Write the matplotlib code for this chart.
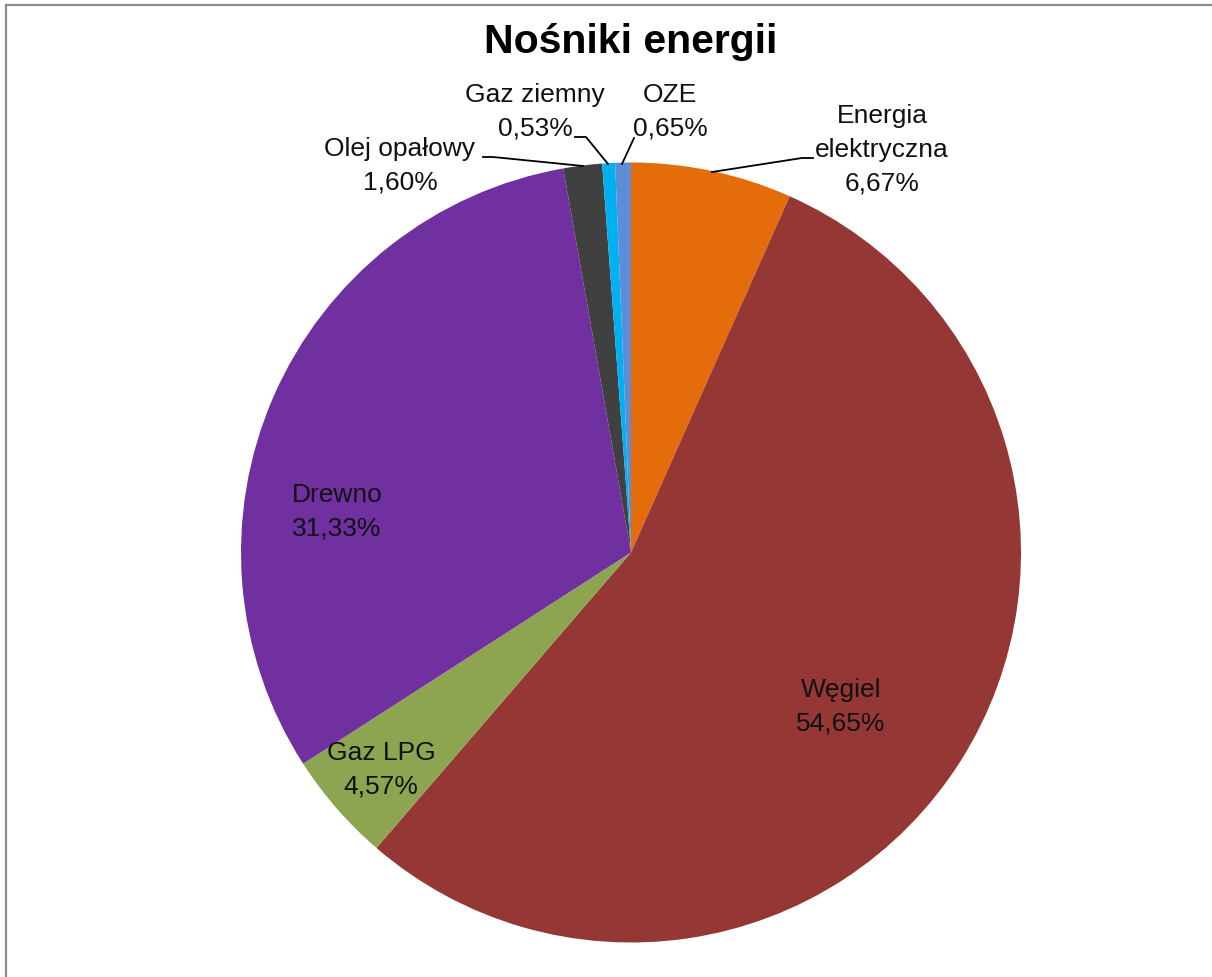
import matplotlib
matplotlib.use("Agg")
import matplotlib.pyplot as plt
from matplotlib.lines import Line2D

plt.rcParams['font.family'] = ['Liberation Sans', 'DejaVu Sans']

# data (clockwise from 12 o'clock)
labels = ["Energia\nelektryczna", "Węgiel", "Gaz LPG", "Drewno",
          "Olej opałowy", "Gaz ziemny", "OZE"]
shares = [6.67, 54.65, 4.57, 31.33, 1.60, 0.53, 0.65]
colors = ["#E46C0A", "#953735", "#8DA550", "#7030A0",
          "#404040", "#00B0F0", "#5B8ED6"]

W, H = 1212, 978
fig = plt.figure(figsize=(W / 100, H / 100), dpi=100)

# pie centre and radius in pixels
cx, cy, r = 631, 553.5, 390
ax = fig.add_axes([(cx - r) / W, (H - cy - r) / H, 2 * r / W, 2 * r / H])
ax.pie(shares, colors=colors, startangle=90, counterclock=False, radius=1,
       wedgeprops=dict(linewidth=0))
ax.set_xlim(-1, 1)
ax.set_ylim(-1, 1)
ax.set_aspect('auto')
ax.axis('off')


def px(x, y):
    return (x - cx) / r, (cy - y) / r


# label centres (pixels)
label_pos = [(882, 150), (841, 707), (381, 770), (337, 512),
             (400, 166), (535, 112), (670, 112)]
for lab, val, (lx, ly) in zip(labels, shares, label_pos):
    txt = "%s\n%s%%" % (lab, ("%.2f" % val).replace(".", ","))
    dx, dy = px(lx, ly)
    ax.text(dx, dy, txt, ha='center', va='center', fontsize=19,
            linespacing=1.5, color='#111111', clip_on=False)

# leader lines
leaders = [
    [(712, 173), (802, 159), (813, 159)],
    [(583, 167), (493, 158), (483, 158)],
    [(608, 165), (586, 138), (575, 138)],
    [(622, 165), (634, 139)],
]
for pts in leaders:
    xs, ys = zip(*[px(x, y) for x, y in pts])
    ax.plot(xs, ys, color='black', lw=1.3, clip_on=False)

fig.text(cx / W, 1 - 42 / H, "Nośniki energii", ha='center', va='center',
         fontsize=29.5, fontweight='bold')

# chart border (left and top visible)
fig.add_artist(Line2D([5.5 / W, 5.5 / W], [0, 1 - 5.5 / H],
                      color='#8C8C8C', lw=1.6))
fig.add_artist(Line2D([5.5 / W, 1], [1 - 5.5 / H, 1 - 5.5 / H],
                      color='#8C8C8C', lw=1.6))

fig.savefig("out.png", dpi=100)
